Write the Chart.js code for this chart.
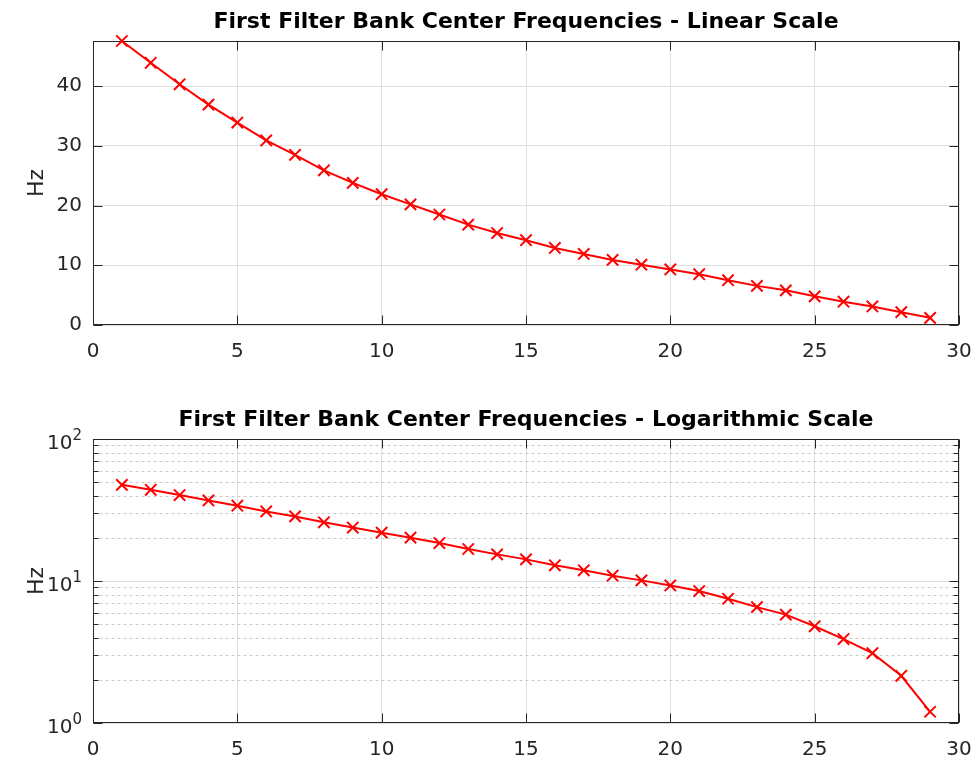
<!DOCTYPE html>
<html lang="en">
<head>
<meta charset="UTF-8">
<title>First Filter Bank Center Frequencies</title>
<script src="https://cdn.jsdelivr.net/npm/chart.js"></script>
<style>
  body { margin: 0; background: #fff; }
  .plot { position: absolute; left: 0; width: 976px; height: 365px; }
  #topPlot { top: 0; }
  #bottomPlot { top: 398px; }
</style>
</head>
<body>
<div class="plot" id="topPlot"><canvas id="linChart"></canvas></div>
<div class="plot" id="bottomPlot"><canvas id="logChart"></canvas></div>

<script>
// filter index and center frequency (Hz)
const filterIndex = [1, 2, 3, 4, 5, 6, 7, 8, 9, 10, 11, 12, 13, 14, 15,
                     16, 17, 18, 19, 20, 21, 22, 23, 24, 25, 26, 27, 28, 29];
const centerFreqHz = [47.55, 43.9, 40.3, 36.9, 33.9, 30.9, 28.5, 25.9, 23.8, 21.9,
                      20.2, 18.5, 16.8, 15.4, 14.2, 12.9, 11.9, 10.9, 10.1, 9.3,
                      8.5, 7.5, 6.55, 5.8, 4.8, 3.9, 3.1, 2.15, 1.2];

const xTicks = [0, 5, 10, 15, 20, 25, 30];
const linTicks = [0, 10, 20, 30, 40];
const logTicks = [1, 10, 100];
const logTickExp = ['0', '1', '2'];

const FONT = 'DejaVu Sans';
const AXIS = '#262626';

const points = filterIndex.map((x, i) => ({ x: x, y: centerFreqHz[i] }));

// minor positions for the log grid (2..9 in each decade)
const logMinor = [];
for (let d = 1; d < 100; d *= 10) {
    for (let m = 2; m <= 9; m++) logMinor.push(m * d);
}

function line(ctx, x1, y1, x2, y2) {
    ctx.beginPath();
    ctx.moveTo(x1, y1);
    ctx.lineTo(x2, y2);
    ctx.stroke();
}

// box, inward ticks, dotted minor grid and the title, matlab style
const matlabAxes = {
    id: 'matlabAxes',
    beforeDatasetsDraw(chart, args, opts) {
        const { ctx, chartArea: a, scales: { x, y } } = chart;
        const L = Math.round(a.left) + 0.5, R = Math.round(a.right) - 0.5;
        const T = Math.round(a.top) + 0.5, B = Math.round(a.bottom) - 0.5;
        ctx.save();
        ctx.lineWidth = 1;

        if (opts.minor) {
            ctx.strokeStyle = '#c9c9c9';
            ctx.setLineDash([3, 3]);
            opts.minor.forEach(v => {
                const py = Math.round(y.getPixelForValue(v)) + 0.5;
                line(ctx, L, py, R, py);
            });
            ctx.setLineDash([]);
        }

        ctx.strokeStyle = AXIS;
        x.ticks.forEach(t => {
            const px = Math.round(x.getPixelForValue(t.value)) + 0.5;
            line(ctx, px, B, px, B - 9);
            line(ctx, px, T, px, T + 9);
        });
        y.ticks.forEach(t => {
            const py = Math.round(y.getPixelForValue(t.value)) + 0.5;
            line(ctx, L, py, L + 9, py);
            line(ctx, R, py, R - 9, py);
        });
        if (opts.minor) {
            opts.minor.forEach(v => {
                const py = Math.round(y.getPixelForValue(v)) + 0.5;
                line(ctx, L, py, L + 5, py);
                line(ctx, R, py, R - 5, py);
            });
        }
        ctx.strokeRect(L, T, R - L, B - T);

        // title centred over the axes box
        ctx.fillStyle = '#000';
        ctx.font = 'bold 22px "' + FONT + '"';
        ctx.textAlign = 'center';
        ctx.textBaseline = 'alphabetic';
        ctx.fillText(opts.title, (a.left + a.right) / 2, a.top - 13);
        ctx.restore();
    },
    afterDraw(chart, args, opts) {
        if (!opts.powerLabels) return;
        const { ctx, scales: { y } } = chart;
        const right = y.right - 11;
        ctx.save();
        ctx.fillStyle = AXIS;
        ctx.textAlign = 'right';
        logTicks.forEach((v, i) => {
            const py = y.getPixelForValue(v);
            ctx.font = '15px "' + FONT + '"';
            ctx.textBaseline = 'alphabetic';
            const ew = ctx.measureText(logTickExp[i]).width;
            ctx.fillText(logTickExp[i], right, py + 1);
            ctx.font = '20px "' + FONT + '"';
            ctx.textBaseline = 'middle';
            ctx.fillText('10', right - ew, py + 5);
        });
        ctx.restore();
    }
};

function makeChart(id, yScale, pluginOpts) {
    return new Chart(document.getElementById(id), {
        type: 'line',
        data: {
            datasets: [{
                data: points,
                borderColor: '#ff0000',
                borderWidth: 2,
                pointStyle: 'crossRot',
                pointRadius: 8,
                pointBorderWidth: 2,
                pointBorderColor: '#ff0000',
                pointBackgroundColor: '#ff0000',
                tension: 0,
                clip: false
            }]
        },
        options: {
            responsive: true,
            maintainAspectRatio: false,
            devicePixelRatio: 1,
            animation: false,
            layout: { padding: { left: 0, right: 17, top: 41, bottom: 0 } },
            plugins: {
                legend: { display: false },
                tooltip: { enabled: false },
                title: { display: false },
                matlabAxes: pluginOpts
            },
            scales: {
                x: {
                    type: 'linear',
                    min: 0,
                    max: 30,
                    afterBuildTicks: s => { s.ticks = xTicks.map(v => ({ value: v })); },
                    afterFit: s => { s.height = 40; s.paddingLeft = 0; s.paddingRight = 0; },
                    grid: { color: '#dedede', drawTicks: false },
                    border: { display: false },
                    ticks: { color: AXIS, padding: 15, font: { family: FONT, size: 20 } }
                },
                y: yScale
            }
        },
        plugins: [matlabAxes]
    });
}

const yTitle = {
    display: true,
    text: 'Hz',
    color: AXIS,
    font: { family: FONT, size: 22 },
    padding: { top: 24, bottom: 0 }
};

makeChart('linChart', {
    type: 'linear',
    min: 0,
    max: centerFreqHz[0],
    afterBuildTicks: s => { s.ticks = linTicks.map(v => ({ value: v })); },
    afterFit: s => { s.width = 93; s.paddingTop = 0; s.paddingBottom = 0; },
    grid: { color: '#dedede', drawTicks: false },
    border: { display: false },
    ticks: { color: AXIS, padding: 11, font: { family: FONT, size: 20 } },
    title: yTitle
}, { title: 'First Filter Bank Center Frequencies - Linear Scale' });

makeChart('logChart', {
    type: 'logarithmic',
    min: 1,
    max: 100,
    afterBuildTicks: s => { s.ticks = logTicks.map(v => ({ value: v, major: true })); },
    afterFit: s => { s.width = 93; s.paddingTop = 0; s.paddingBottom = 0; },
    grid: { color: '#dedede', drawTicks: false },
    border: { display: false },
    ticks: { display: false },
    title: yTitle
}, { title: 'First Filter Bank Center Frequencies - Logarithmic Scale', minor: logMinor, powerLabels: true });
</script>
</body>
</html>
